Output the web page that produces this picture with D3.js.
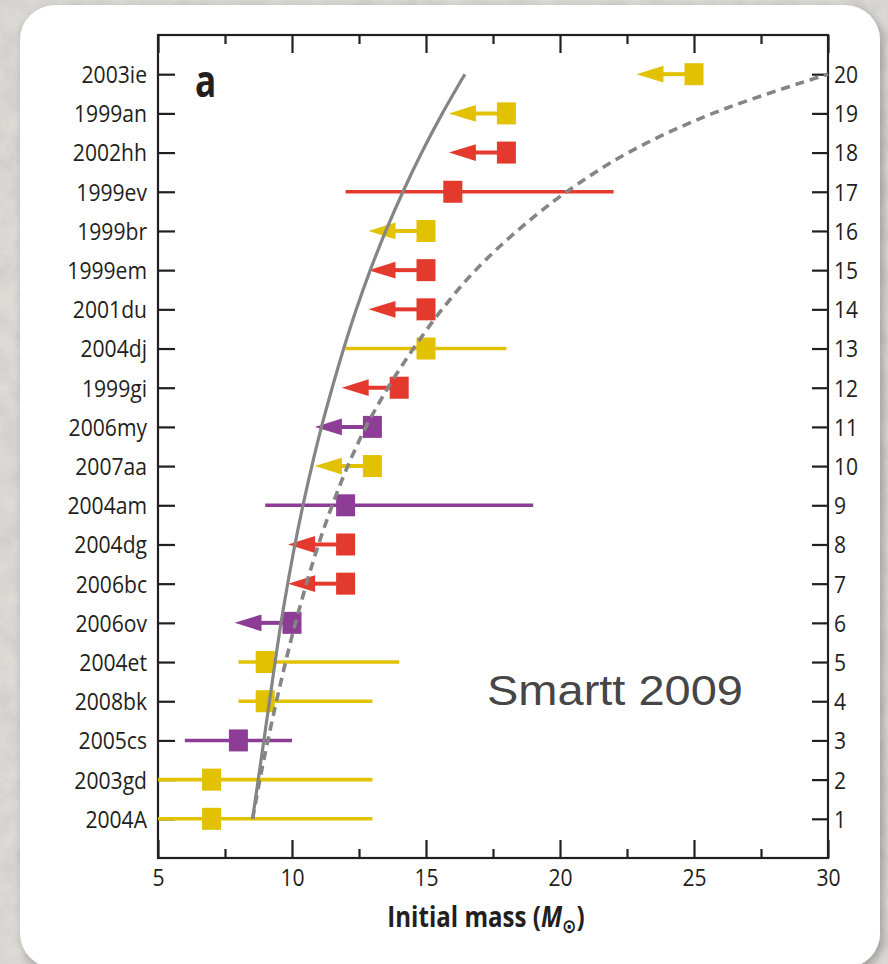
<!DOCTYPE html>
<html>
<head>
<meta charset="utf-8">
<script src="https://cdn.jsdelivr.net/npm/d3@7"></script>
<style>
  html, body { margin: 0; padding: 0; background: #dfddd8; }
  svg { display: block; }
</style>
</head>
<body>
<svg id="chart" width="888" height="964"></svg>
<script>
// Type II-P progenitors, ordered by rank from the bottom (1) to the top (20)
const names = ["2004A", "2003gd", "2005cs", "2008bk", "2004et", "2006ov", "2006bc", "2004dg", "2004am", "2007aa",
               "2006my", "1999gi", "2004dj", "2001du", "1999em", "1999br", "1999ev", "2002hh", "1999an", "2003ie"];
// Initial mass (or upper limit) in solar masses
const masses = [7, 7, 8, 9, 9, 10, 12, 12, 12, 13, 13, 14, 15, 15, 15, 15, 16, 18, 18, 25];
// Error range; null where the value is an upper limit
const lowErr  = [5, 5, 6, 8, 8, null, null, null, 9, null, null, null, 12, null, null, null, 12, null, null, null];
const highErr = [13, 13, 10, 13, 14, null, null, null, 19, null, null, null, 18, null, null, null, 22, null, null, null];
// Colour group of each object
const groups = ["gold", "gold", "violet", "gold", "gold", "violet", "red", "red", "violet", "gold",
                "violet", "red", "gold", "red", "red", "gold", "red", "red", "gold", "gold"];
// Rank labels on the right-hand axis
const ranks = d3.range(1, 21);
// Model curves: expected mass at each rank
const solidCurve  = [8.53, 8.74, 8.95, 9.16, 9.37, 9.59, 9.84, 10.11, 10.41, 10.74, 11.1, 11.5, 11.93, 12.4, 12.92, 13.5, 14.14, 14.84, 15.61, 16.45];
const dashedCurve = [8.53, 8.8, 9.1, 9.42, 9.76, 10.13, 10.54, 10.99, 11.5, 12.08, 12.76, 13.58, 14.53, 15.6, 16.85, 18.4, 20.25, 22.55, 25.7, 30];
// X-axis ticks
const majorTicks = [5, 10, 15, 20, 25, 30];
const minorTicks = [7.5, 12.5, 17.5, 22.5, 27.5];

const palette = { gold: "#e1c100", red: "#e43a2e", violet: "#8d3d95" };
const ink = "#231f20";

const rows = names.map((n, i) => ({
  name: n, rank: i + 1, mass: masses[i], lo: lowErr[i], hi: highErr[i], group: groups[i]
}));

const svg = d3.select("#chart");
const W = 888, H = 964;
const box = { left: 158, right: 828, top: 35, bottom: 858 };

const x = d3.scaleLinear().domain([5, 30]).range([box.left, box.right]);
const y = d3.scaleLinear().domain([0, 21]).range([box.bottom, box.top]);

// ---------- backdrop: paper texture and rounded card ----------
const defs = svg.append("defs");
const paper = defs.append("filter").attr("id", "paper").attr("x", 0).attr("y", 0).attr("width", "100%").attr("height", "100%");
paper.append("feTurbulence").attr("type", "fractalNoise").attr("baseFrequency", 0.045).attr("numOctaves", 4).attr("seed", 7);
paper.append("feColorMatrix").attr("type", "matrix")
  .attr("values", "0 0 0 0 0.5  0 0 0 0 0.49  0 0 0 0 0.47  0.7 0 0 0 -0.22");
const grain = defs.append("filter").attr("id", "grain").attr("x", 0).attr("y", 0).attr("width", "100%").attr("height", "100%");
grain.append("feTurbulence").attr("type", "fractalNoise").attr("baseFrequency", 0.9).attr("numOctaves", 1).attr("seed", 3);
grain.append("feColorMatrix").attr("type", "matrix")
  .attr("values", "0 0 0 0 0.45  0 0 0 0 0.44  0 0 0 0 0.42  0.5 0 0 0 -0.18");
const shadow = defs.append("filter").attr("id", "shadow").attr("x", "-5%").attr("y", "-5%").attr("width", "110%").attr("height", "110%");
shadow.append("feDropShadow").attr("dx", 3).attr("dy", 4).attr("stdDeviation", 5)
  .attr("flood-color", "#000").attr("flood-opacity", 0.28);

svg.append("rect").attr("width", W).attr("height", H).attr("fill", "#e0ded9");
svg.append("rect").attr("width", W).attr("height", H).attr("filter", "url(#paper)");
svg.append("rect").attr("width", W).attr("height", H).attr("filter", "url(#grain)");

svg.append("rect")
  .attr("x", 20).attr("y", 5).attr("width", 860).attr("height", 963)
  .attr("rx", 35).attr("ry", 35)
  .attr("fill", "#ffffff")
  .attr("filter", "url(#shadow)");

// ---------- text helpers ----------
const baseFont = "'Open Sans', 'Noto Sans', sans-serif";
const SX = 0.88; // narrow the face horizontally

function squeeze(sel, sx) {
  sel.each(function () {
    const t = d3.select(this);
    const x0 = +t.attr("x") || 0;
    t.attr("x", x0 / sx).attr("transform", `scale(${sx},1)`);
  });
}

// ---------- axes ----------
function styleAxis(g) {
  g.select(".domain").remove();
  g.selectAll(".tick line").attr("stroke", ink).attr("stroke-width", 2.2);
  g.selectAll(".tick text").attr("fill", ink).attr("font-family", baseFont).attr("font-size", 24);
}

// left: object names
const gLeft = svg.append("g").attr("transform", `translate(${box.left},0)`)
  .call(d3.axisLeft(y).tickValues(ranks).tickFormat(r => names[r - 1]).tickSizeInner(-17).tickSizeOuter(0).tickPadding(11))
  .call(styleAxis);
gLeft.selectAll(".tick text").attr("dy", "0.35em").call(squeeze, SX);

// right: rank numbers
const gRight = svg.append("g").attr("transform", `translate(${box.right},0)`)
  .call(d3.axisRight(y).tickValues(ranks).tickFormat(d3.format("d")).tickSizeInner(-16).tickSizeOuter(0).tickPadding(6))
  .call(styleAxis);
gRight.selectAll(".tick text").attr("dy", "0.35em").call(squeeze, SX);

// bottom: major ticks with labels, minor ticks without
const gBottom = svg.append("g").attr("transform", `translate(0,${box.bottom})`)
  .call(d3.axisBottom(x).tickValues(majorTicks).tickFormat(d3.format("d")).tickSizeInner(-18).tickSizeOuter(0).tickPadding(11))
  .call(styleAxis);
gBottom.selectAll(".tick text").call(squeeze, SX);
svg.append("g").attr("transform", `translate(0,${box.bottom})`)
  .call(d3.axisBottom(x).tickValues(minorTicks).tickFormat("").tickSizeInner(-9).tickSizeOuter(0))
  .call(styleAxis);

// top: mirrored ticks
svg.append("g").attr("transform", `translate(0,${box.top})`)
  .call(d3.axisTop(x).tickValues(majorTicks).tickFormat("").tickSizeInner(-18).tickSizeOuter(0))
  .call(styleAxis);
svg.append("g").attr("transform", `translate(0,${box.top})`)
  .call(d3.axisTop(x).tickValues(minorTicks).tickFormat("").tickSizeInner(-9).tickSizeOuter(0))
  .call(styleAxis);

// frame
svg.append("rect")
  .attr("x", box.left).attr("y", box.top)
  .attr("width", box.right - box.left).attr("height", box.bottom - box.top)
  .attr("fill", "none").attr("stroke", ink).attr("stroke-width", 2.2);

// ---------- marks ----------
const marks = svg.append("g");

// error ranges
marks.selectAll("line.range")
  .data(rows.filter(d => d.lo !== null))
  .join("line")
  .attr("class", "range")
  .attr("x1", d => x(d.lo)).attr("x2", d => x(d.hi))
  .attr("y1", d => y(d.rank)).attr("y2", d => y(d.rank))
  .attr("stroke", d => palette[d.group]).attr("stroke-width", 3.6);

// upper-limit arrows
const ARROW = 57.5, HEAD = 27, HALF = 8.4;
const limits = rows.filter(d => d.lo === null);
marks.selectAll("line.shaft")
  .data(limits)
  .join("line")
  .attr("class", "shaft")
  .attr("x1", d => x(d.mass)).attr("x2", d => x(d.mass) - ARROW + HEAD - 1)
  .attr("y1", d => y(d.rank)).attr("y2", d => y(d.rank))
  .attr("stroke", d => palette[d.group]).attr("stroke-width", 4);
marks.selectAll("path.head")
  .data(limits)
  .join("path")
  .attr("class", "head")
  .attr("d", d => {
    const tip = x(d.mass) - ARROW, cy = y(d.rank);
    return `M${tip},${cy}L${tip + HEAD},${cy - HALF}L${tip + HEAD},${cy + HALF}Z`;
  })
  .attr("fill", d => palette[d.group]);

// squares
const SW = 19, SH = 22;
marks.selectAll("rect.pt")
  .data(rows)
  .join("rect")
  .attr("class", "pt")
  .attr("x", d => x(d.mass) - SW / 2).attr("y", d => y(d.rank) - SH / 2)
  .attr("width", SW).attr("height", SH)
  .attr("fill", d => palette[d.group]);

// ---------- model curves ----------
const curveLine = d3.line()
  .x(d => x(d.m)).y(d => y(d.r))
  .curve(d3.curveCatmullRom.alpha(0.5));

svg.append("path")
  .datum(solidCurve.map((m, i) => ({ m, r: ranks[i] })))
  .attr("d", curveLine)
  .attr("fill", "none").attr("stroke", "#858585").attr("stroke-width", 3.2);

svg.append("path")
  .datum(dashedCurve.map((m, i) => ({ m, r: ranks[i] })))
  .attr("d", curveLine)
  .attr("fill", "none").attr("stroke", "#858585").attr("stroke-width", 3.6)
  .attr("stroke-dasharray", "9,6");

// ---------- labels ----------
svg.append("text")
  .attr("transform", `translate(195,97) scale(0.8,1)`)
  .attr("font-family", baseFont).attr("font-weight", 700).attr("font-size", 44)
  .attr("fill", ink)
  .text("a");

const title = svg.append("text")
  .attr("transform", `translate(${(box.left + box.right) / 2 - 7},927) scale(0.86,1)`)
  .attr("text-anchor", "middle")
  .attr("font-family", baseFont).attr("font-weight", 700).attr("font-size", 28)
  .attr("fill", ink);
title.append("tspan").text("Initial mass (");
title.append("tspan").attr("font-style", "italic").text("M");
title.append("tspan").attr("font-family", "'DejaVu Sans', sans-serif").attr("font-size", 20).attr("dy", 6).text("⊙");
title.append("tspan").attr("dy", -6).text(")");

svg.append("text")
  .attr("x", 487).attr("y", 705)
  .attr("font-family", "'Liberation Sans', Arial, sans-serif").attr("font-size", 43)
  .attr("fill", "#464646")
  .attr("textLength", 256).attr("lengthAdjust", "spacingAndGlyphs")
  .text("Smartt 2009");
</script>
</body>
</html>
